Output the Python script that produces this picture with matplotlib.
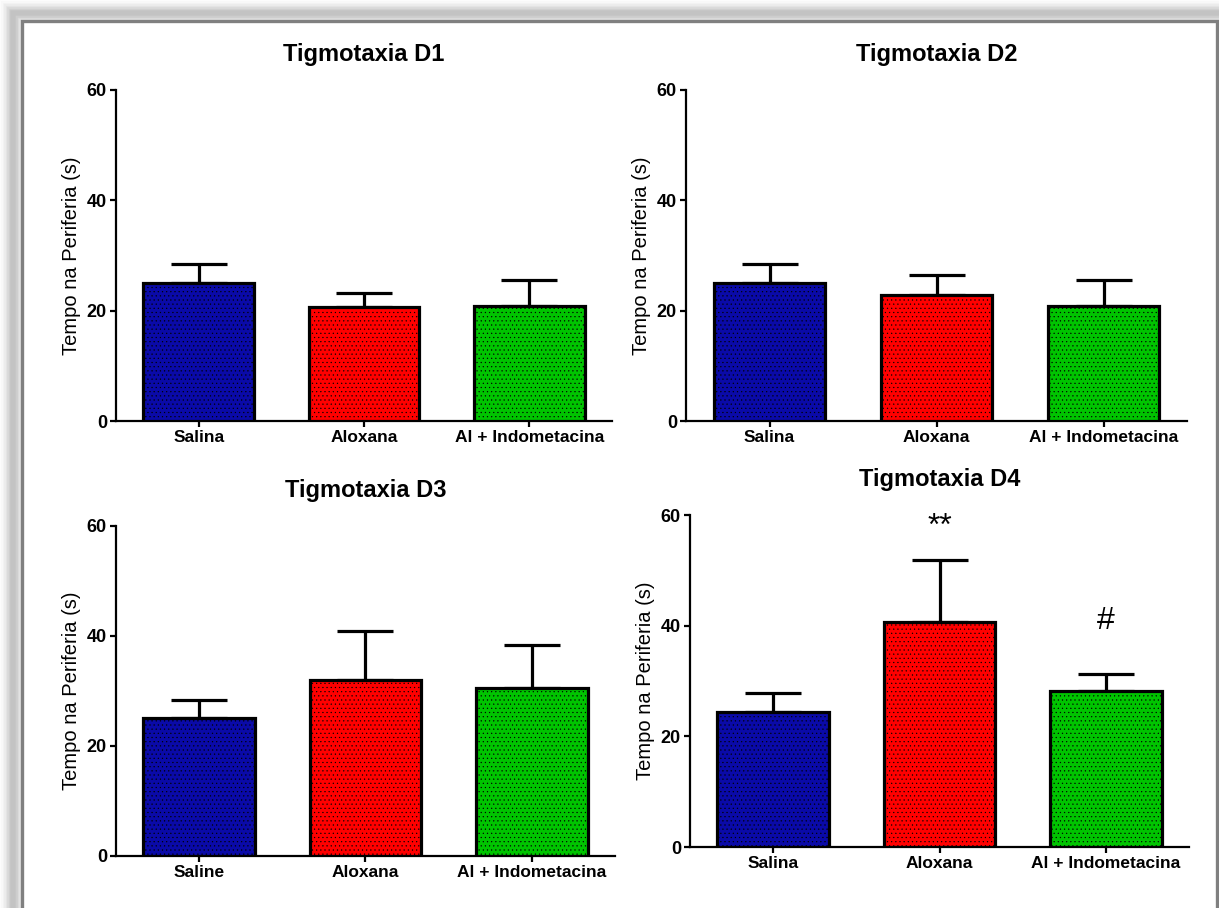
import numpy as np
import matplotlib.pyplot as plt
from matplotlib.patches import Rectangle

# ---- data ----
groups_a = ['Salina', 'Aloxana', 'Al + Indometacina']
groups_b = ['Saline', 'Aloxana', 'Al + Indometacina']

d1_mean = [25.1, 20.7, 20.9]
d1_sem = [3.4, 2.5, 4.7]
d2_mean = [25.1, 22.8, 20.9]
d2_sem = [3.4, 3.7, 4.7]
d3_mean = [25.1, 32.0, 30.5]
d3_sem = [3.3, 8.9, 7.9]
d4_mean = [24.4, 40.7, 28.2]
d4_sem = [3.4, 11.1, 3.1]

titles = ['Tigmotaxia D1', 'Tigmotaxia D2', 'Tigmotaxia D3', 'Tigmotaxia D4']
colors = ['#0A0AA8', '#FF0000', '#00C400']
ylabel = 'Tempo na Periferia (s)'

plt.rcParams['font.family'] = ['Liberation Sans', 'DejaVu Sans']
plt.rcParams['hatch.linewidth'] = 0.35

W, H = 1219, 908
fig = plt.figure(figsize=(W / 100, H / 100), dpi=100)

# soft shadow + gray frame around the whole figure (behind the axes)
for i, a in enumerate(np.linspace(0.05, 0.012, 8)):
    fig.patches.append(Rectangle((13 / W, -0.1), (1240 - 13) / W, (H - 13) / H + 0.1,
                                 transform=fig.transFigure, fill=False,
                                 edgecolor='black', alpha=a, lw=4 + i * 2.2, zorder=-3))
fig.patches.append(Rectangle((21.5 / W, -0.1), (1217 - 21.5) / W, (H - 20.5) / H + 0.1,
                             transform=fig.transFigure, facecolor='white',
                             edgecolor='#808080', lw=2.4, zorder=-2))

# axes boxes in pixels: left, top, right, bottom
boxes = [(116, 90, 612, 421), (686, 90, 1187, 421),
         (116, 526, 615, 856), (690, 515, 1189, 847)]
means = [d1_mean, d2_mean, d3_mean, d4_mean]
sems = [d1_sem, d2_sem, d3_sem, d4_sem]
labels = [groups_a, groups_a, groups_b, groups_a]

x = np.arange(3)
axes = []
for k in range(4):
    l, t, r, b = boxes[k]
    ax = fig.add_axes([l / W, 1 - b / H, (r - l) / W, (b - t) / H])
    ax.patch.set_alpha(0)
    ax.errorbar(x, means[k], yerr=[np.zeros(3), sems[k]], fmt='none',
                ecolor='black', elinewidth=2.3, capsize=20, capthick=2.3, zorder=2)
    ax.bar(x, means[k], width=0.67, color=colors, edgecolor='black',
           linewidth=2.3, hatch='....', zorder=3)
    ax.set_xlim(-0.5, 2.5)
    ax.set_ylim(0, 60)
    ax.set_yticks([0, 20, 40, 60])
    ax.set_xticks(x)
    ax.set_xticklabels(labels[k], fontsize=12.5, fontweight='bold')
    for lab in ax.get_yticklabels():
        lab.set_fontsize(13)
        lab.set_fontweight('bold')
    ax.spines['top'].set_visible(False)
    ax.spines['right'].set_visible(False)
    ax.spines['left'].set_linewidth(1.6)
    ax.spines['bottom'].set_linewidth(1.6)
    ax.tick_params(direction='out', length=4, width=1.6, pad=2.5)
    ax.set_ylabel(ylabel, fontsize=14.5, labelpad=4)
    ax.set_title(titles[k], fontsize=17, fontweight='bold', pad=21)
    axes.append(ax)

# significance marks on D4
axes[3].text(1, 57.8, '**', ha='center', va='center', fontsize=23)
axes[3].text(2, 40.8, '#', ha='center', va='center', fontsize=23)

plt.savefig('out.png', dpi=100)
plt.close()
